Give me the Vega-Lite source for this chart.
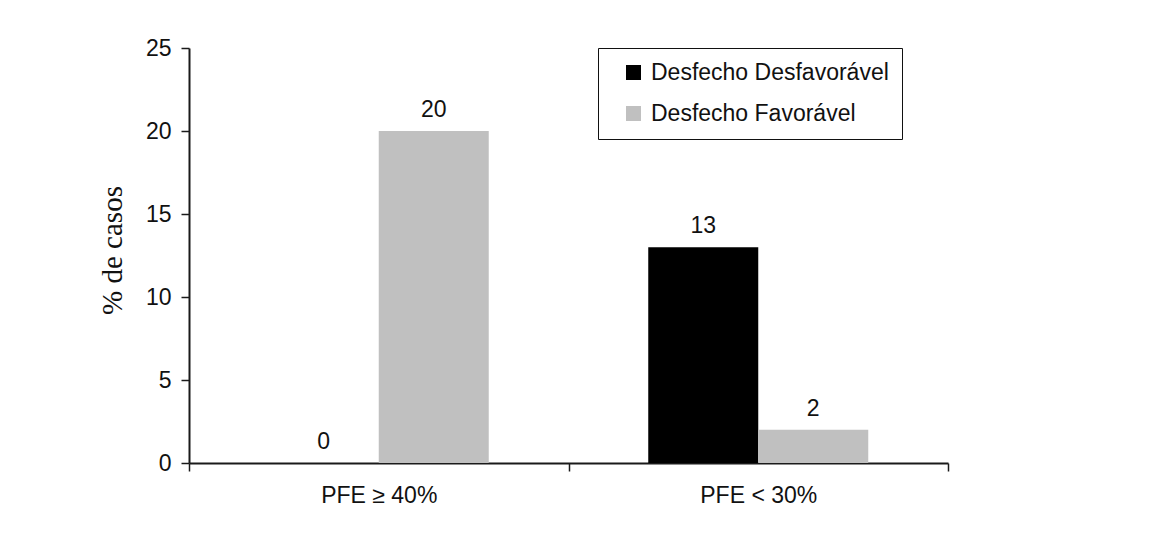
{
  "$schema": "https://vega.github.io/schema/vega-lite/v6.json",
  "width": 759,
  "height": 415,
  "autosize": {"type": "none"},
  "padding": {"left": 189, "top": 48, "right": 206, "bottom": 74},
  "background": "white",
  "config": {
    "view": {"stroke": null},
    "font": "Liberation Sans",
    "axis": {
      "domainColor": "#1a1a1a",
      "domainWidth": 2,
      "tickColor": "#1a1a1a",
      "tickWidth": 1.5,
      "labelColor": "#111",
      "labelFont": "Liberation Sans",
      "labelFontSize": 23,
      "grid": false
    }
  },
  "data": {
    "values": [
      {"grupo": "PFE ≥ 40%", "desfecho": "Desfecho Desfavorável", "valor": 0},
      {"grupo": "PFE ≥ 40%", "desfecho": "Desfecho Favorável", "valor": 20},
      {"grupo": "PFE < 30%", "desfecho": "Desfecho Desfavorável", "valor": 13},
      {"grupo": "PFE < 30%", "desfecho": "Desfecho Favorável", "valor": 2}
    ]
  },
  "encoding": {
    "x": {
      "field": "grupo",
      "type": "nominal",
      "sort": null,
      "scale": {"paddingInner": 0, "paddingOuter": 0},
      "axis": {
        "title": null,
        "labelAngle": 0,
        "tickBand": "extent",
        "tickSize": 8,
        "labelPadding": 13
      }
    },
    "xOffset": {
      "field": "desfecho",
      "type": "nominal",
      "sort": null,
      "scale": {"paddingInner": 0, "paddingOuter": 0.725}
    },
    "y": {
      "field": "valor",
      "type": "quantitative",
      "scale": {"domain": [0, 25], "nice": false},
      "axis": {
        "values": [0, 5, 10, 15, 20, 25],
        "tickSize": 8,
        "labelPadding": 10,
        "title": "% de casos",
        "titleFont": "Liberation Serif",
        "titleFontSize": 29,
        "titleFontWeight": "normal",
        "titleColor": "#111",
        "titleAngle": -90,
        "titleX": -77,
        "titleY": 202,
        "titleAlign": "center",
        "titleBaseline": "middle"
      }
    }
  },
  "layer": [
    {
      "mark": {"type": "bar"},
      "encoding": {
        "color": {
          "field": "desfecho",
          "type": "nominal",
          "sort": null,
          "scale": {
            "domain": ["Desfecho Desfavorável", "Desfecho Favorável"],
            "range": ["#000000", "#c0c0c0"]
          },
          "legend": {
            "title": null,
            "orient": "none",
            "legendX": 409,
            "legendY": 0,
            "strokeColor": "#111",
            "fillColor": "white",
            "padding": 13,
            "symbolType": "square",
            "symbolSize": 225,
            "symbolOffset": 11,
            "symbolStrokeWidth": 0,
            "labelFont": "Liberation Sans",
            "labelFontSize": 23,
            "labelColor": "#111",
            "labelOffset": 6,
            "labelLimit": 400,
            "rowPadding": 17
          }
        }
      }
    },
    {
      "mark": {
        "type": "text",
        "baseline": "bottom",
        "dy": -9,
        "fontSize": 23,
        "font": "Liberation Sans",
        "color": "#111"
      },
      "encoding": {
        "text": {"field": "valor", "type": "quantitative"}
      }
    }
  ]
}
